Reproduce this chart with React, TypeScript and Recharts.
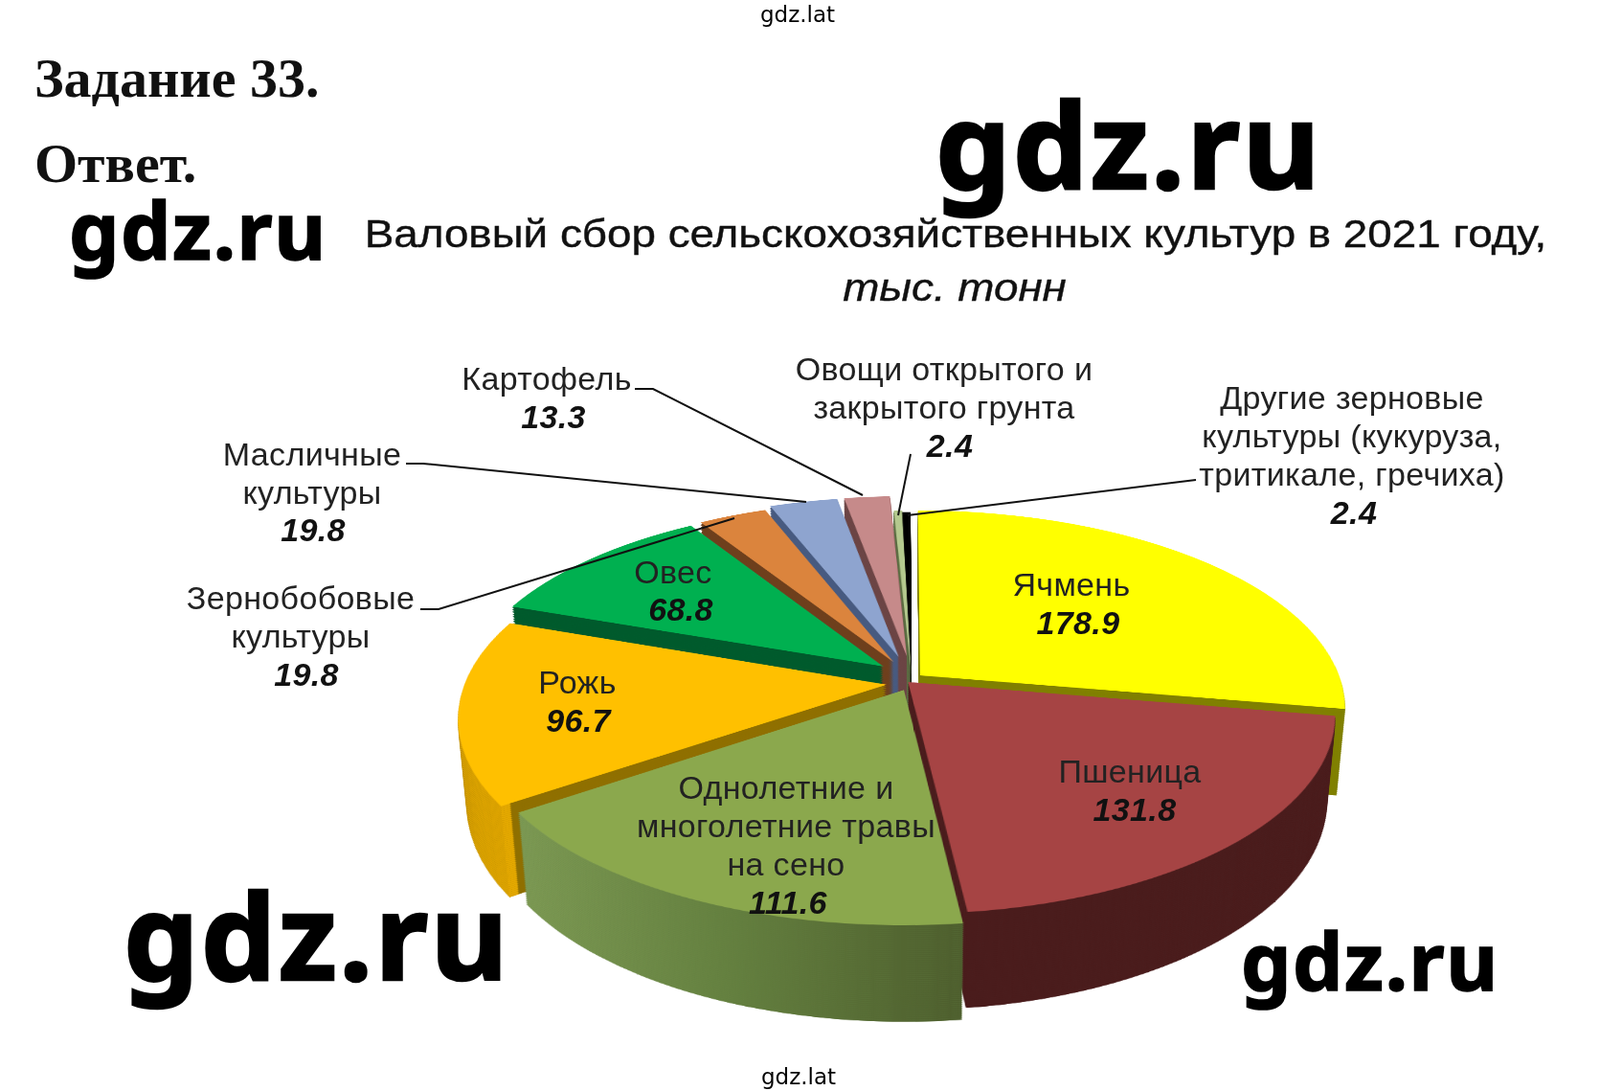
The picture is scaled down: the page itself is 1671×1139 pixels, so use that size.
import { PieChart, Pie, Sector } from 'recharts';

const CATEGORIES = ['Ячмень', 'Пшеница', 'Травы', 'Рожь', 'Овес', 'Зернобобовые', 'Масличные', 'Картофель', 'Овощи', 'Другие'];
const VALUES = [178.9, 131.8, 111.6, 96.7, 68.8, 19.8, 19.8, 13.3, 2.4, 2.4];
const TOP_COLORS = ['#FFFF00', '#A64444', '#8BA84D', '#FFC000', '#00B050', '#DB843D', '#8EA4CF', '#C68A8A', '#B4C98E', '#000000'];
const CUT_COLORS = ['#808000', '#4A1C1C', '#5E7A3E', '#8F6F00', '#005A2C', '#6E3F1C', '#475A80', '#6B4444', '#5A6B40', '#000000'];
const WALL_COLORS = ['#808000', '#4A1C1C', 'url(#hayWall)', '#E5A900', '#005A2C', '#6E3F1C', '#475A80', '#6B4444', '#5A6B40', '#000000'];
// how far each slice is pulled out of the pie, in the plane of the pie
const PULL_X = [16, 3.4, -1, -19, -23, -12, -6.5, 2, 7, 7];
const PULL_Y = [-15, 0, 18, 6, -36, -46, -58, -60, -15, -10];

const PIE_DATA = CATEGORIES.map((name, i) => ({ name, value: VALUES[i] }));

// sides of the pie are made of stacked copies pushed back in z
const DEPTH = 102;
const STEP = 2;
const LAYERS: number[] = [];
for (let z = DEPTH; z > 0; z -= STEP) LAYERS.push(z);

const RADIUS = 440;
const SIZE = 1000;
const CENTER_X = 945;
const CENTER_Y = 712;

const FONT = '"Liberation Sans", Arial, sans-serif';
const WATERMARK = '"Noto Sans", sans-serif';

const LABELS = [
  { lines: ['Картофель'], value: '13.3', x: 571, y: 395, vx: 578, vy: 435 },
  { lines: ['Овощи открытого и', 'закрытого грунта'], value: '2.4', x: 986, y: 385, vx: 992, vy: 465 },
  { lines: ['Другие зерновые', 'культуры (кукуруза,', 'тритикале, гречиха)'], value: '2.4', x: 1412, y: 415, vx: 1414, vy: 535 },
  { lines: ['Масличные', 'культуры'], value: '19.8', x: 326, y: 474, vx: 327, vy: 553 },
  { lines: ['Зернобобовые', 'культуры'], value: '19.8', x: 314, y: 624, vx: 320, vy: 704 },
  { lines: ['Овес'], value: '68.8', x: 703, y: 597, vx: 711, vy: 636 },
  { lines: ['Рожь'], value: '96.7', x: 603, y: 712, vx: 604, vy: 752 },
  { lines: ['Однолетние и', 'многолетние травы', 'на сено'], value: '111.6', x: 821, y: 822, vx: 823, vy: 942 },
  { lines: ['Пшеница'], value: '131.8', x: 1180, y: 805, vx: 1185, vy: 845 },
  { lines: ['Ячмень'], value: '178.9', x: 1119, y: 610, vx: 1126, vy: 650 },
];

const LEADERS = [
  '663,406 682,406 901,517',
  '424,484 442,484 842,524',
  '439,636 458,636 767,541',
  '951,474 938,538',
  '1249,501 948,538',
];

function shifted(props: any) {
  const i = CATEGORIES.indexOf(props.name);
  return { i, cx: props.cx + PULL_X[i], cy: props.cy + PULL_Y[i] };
}

function TopSlice(props: any) {
  const { i, cx, cy } = shifted(props);
  return (
    <Sector cx={cx} cy={cy} innerRadius={0} outerRadius={props.outerRadius}
      startAngle={props.startAngle} endAngle={props.endAngle} fill={TOP_COLORS[i]} stroke="none" />
  );
}

function SideSlice(props: any) {
  const { i, cx, cy } = shifted(props);
  return (
    <g>
      <Sector cx={cx} cy={cy} innerRadius={0} outerRadius={props.outerRadius}
        startAngle={props.startAngle} endAngle={props.endAngle} fill={CUT_COLORS[i]} stroke="none" />
      <Sector cx={cx} cy={cy} innerRadius={props.outerRadius - 10} outerRadius={props.outerRadius}
        startAngle={props.startAngle} endAngle={props.endAngle} fill={WALL_COLORS[i]} stroke="none" />
    </g>
  );
}

function Layer({ z, top }: { z: number; top?: boolean }) {
  return (
    <div style={{
      position: 'absolute', left: CENTER_X - SIZE / 2, top: CENTER_Y - SIZE / 2, width: SIZE, height: SIZE,
      transform: `perspective(2390px) rotateX(62.6deg) translateZ(${-z}px)`,
    }}>
      <PieChart width={SIZE} height={SIZE} margin={{ top: 0, right: 0, bottom: 0, left: 0 }}>
        <Pie data={PIE_DATA} dataKey="value" nameKey="name" cx={SIZE / 2} cy={SIZE / 2}
          innerRadius={0} outerRadius={RADIUS} startAngle={90} endAngle={-270}
          stroke="none" labelLine={false} isAnimationActive={false}
          shape={top ? TopSlice : SideSlice} />
      </PieChart>
    </div>
  );
}

export default function App() {
  return (
    <div style={{ position: 'absolute', left: 0, top: 0, width: 1671, height: 1139, overflow: 'hidden', background: '#fff' }}>
      <svg width={0} height={0} style={{ position: 'absolute' }}>
        <defs>
          <linearGradient id="hayWall" gradientUnits="userSpaceOnUse" x1={130} y1={0} x2={560} y2={0}>
            <stop offset="0" stopColor="#7F9C55" />
            <stop offset="0.5" stopColor="#64803F" />
            <stop offset="1" stopColor="#4C5C2C" />
          </linearGradient>
        </defs>
      </svg>

      {LAYERS.map(z => <Layer key={z} z={z} />)}
      <Layer z={0} top />

      <svg width={1671} height={1139} style={{ position: 'absolute', left: 0, top: 0 }}>
        <g style={{ filter: 'blur(0.5px)' }}>
          <text transform="translate(998 258) scale(1.117 1)" textAnchor="middle" fontFamily={FONT} fontSize={41}
            fill="#111" stroke="#111" strokeWidth={0.4}>
            Валовый сбор сельскохозяйственных культур в 2021 году,
          </text>
          <text transform="translate(997 314) scale(1.117 1)" textAnchor="middle" fontFamily={FONT} fontSize={41}
            fontStyle="italic" fill="#111" stroke="#111" strokeWidth={0.4}>
            тыс. тонн
          </text>
          {LEADERS.map(p => <polyline key={p} points={p} fill="none" stroke="#111" strokeWidth={2} />)}
          {LABELS.map(l => (
            <g key={l.value + l.x} fontFamily={FONT} fontSize={34} letterSpacing={0.35} fill="#222" textAnchor="middle">
              {l.lines.map((t, i) => (
                <text key={t} x={l.x} y={l.y + i * 40 + 12}>{t}</text>
              ))}
              <text x={l.vx} y={l.vy + 12} fontWeight="bold" fontStyle="italic" fill="#111">{l.value}</text>
            </g>
          ))}
        </g>

        <text x={36} y={101} fontFamily='"Liberation Serif", serif' fontWeight="bold" fontSize={58} fill="#111">Задание 33.</text>
        <text x={36} y={190} fontFamily='"Liberation Serif", serif' fontWeight="bold" fontSize={58} fill="#111">Ответ.</text>

        <g fontFamily={WATERMARK} fontWeight="bold" stroke="#000">
          <text x={977} y={197} fontSize={124} letterSpacing={2.5} strokeWidth={2.5}>gdz.ru</text>
          <text x={72} y={271} fontSize={83} letterSpacing={1.6} strokeWidth={1.6}>gdz.ru</text>
          <text x={129} y={1023} fontSize={124} letterSpacing={2.5} strokeWidth={2.5}>gdz.ru</text>
          <text x={1296} y={1034} fontSize={83} letterSpacing={1.6} strokeWidth={1.6}>gdz.ru</text>
        </g>

        <text x={833} y={23} textAnchor="middle" fontFamily='"DejaVu Sans", sans-serif' fontSize={23}>gdz.lat</text>
        <text x={834} y={1132} textAnchor="middle" fontFamily='"DejaVu Sans", sans-serif' fontSize={23}>gdz.lat</text>
      </svg>
    </div>
  );
}
